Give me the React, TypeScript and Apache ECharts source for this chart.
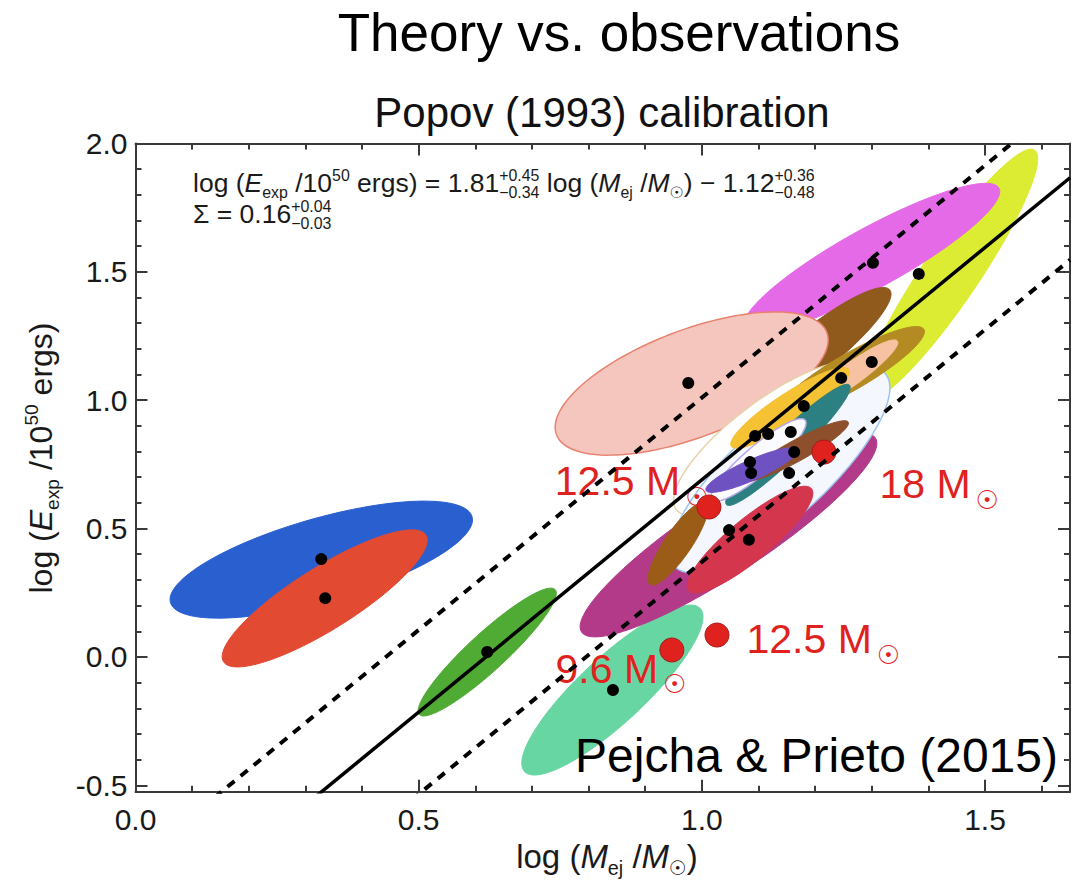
import React, { useEffect, useRef } from "react";
import * as echarts from "echarts";

// Axis extents: log (M_ej / Msun) and log (E_exp / 1e50 erg)
const X_MIN = 0;
const X_MAX = 1.65;
const Y_MIN = -0.525;
const Y_MAX = 2.0;

const xMajorTicks = [0, 0.5, 1.0, 1.5];
const xMinorTicks = [0.1, 0.2, 0.3, 0.4, 0.6, 0.7, 0.8, 0.9, 1.1, 1.2, 1.3, 1.4, 1.6];
const yMajorTicks = [-0.5, 0, 0.5, 1.0, 1.5, 2.0];
const yMinorTicks = [-0.4, -0.3, -0.2, -0.1, 0.1, 0.2, 0.3, 0.4, 0.6, 0.7, 0.8, 0.9, 1.1, 1.2, 1.3, 1.4, 1.6, 1.7, 1.8, 1.9];

// Popov (1993) calibrated relation: log E = slope * log M + intercept, scatter sigma
const fitSlope = 1.81;
const fitIntercept = -1.12;
const fitSigma = 0.16;

// Posterior ellipses of the individual supernovae (centre, half-extent in x and y, correlation)
const ellipseCx = [0.328, 0.334, 0.621, 0.842, 1.438, 1.3, 1.2, 0.982, 1.047, 1.12, 1.138, 1.085, 0.958, 1.262, 1.262, 1.156, 1.152, 1.1, 1.166, 1.088];
const ellipseCy = [0.379, 0.228, 0.019, -0.129, 1.488, 1.554, 1.196, 1.065, 0.475, 0.85, 0.728, 0.457, 0.442, 1.11, 1.098, 0.97, 0.826, 0.767, 0.802, 0.728];
const ellipseSx = [0.267, 0.181, 0.122, 0.16, 0.155, 0.226, 0.134, 0.241, 0.262, 0.17, 0.194, 0.111, 0.053, 0.131, 0.084, 0.105, 0.11, 0.084, 0.093, 0.081];
const ellipseSy = [0.228, 0.267, 0.249, 0.331, 0.49, 0.291, 0.243, 0.279, 0.397, 0.3, 0.4, 0.208, 0.162, 0.177, 0.137, 0.157, 0.236, 0.161, 0.118, 0.087];
const ellipseRho = [0.68, 0.85, 0.92, 0.86, 0.924, 0.89, 0.896, 0.61, 0.9, 0.8, 0.8, 0.87, 0.85, 0.889, 0.924, 0.896, 0.949, 0.897, 0.92, 0.87];

// Best-fit points of the supernovae
const snLogM = [0.328, 0.335, 0.621, 0.843, 1.094, 1.117, 1.157, 1.163, 1.085, 1.087, 1.154, 1.18, 1.246, 1.3, 0.976, 1.302, 1.383, 1.048, 1.083];
const snLogE = [0.381, 0.229, 0.019, -0.129, 0.861, 0.868, 0.876, 0.798, 0.759, 0.716, 0.716, 0.977, 1.087, 1.149, 1.067, 1.535, 1.492, 0.494, 0.456];

// Neutrino-driven explosion models (progenitor mass in Msun)
const modelMass = ["12.5", "18", "12.5", "9.6"];
const modelLogM = [1.0125, 1.2156, 1.0267, 0.947];
const modelLogE = [0.584, 0.798, 0.0853, 0.027];

// Ellipse palette
const ellipseFill = [
  "#2a5fcf", "#e24a32", "#4fab34", "#68d6a2", "#dcec32", "#e46ae8", "#8f5a1c", "#f4c6be",
  "#b23a88", "#ffffff", "#f5f7ff", "#d4364e", "#9a5c16", "#b38b22", "#f6c2a2", "#f4c232",
  "#2c8082", "#fbfaff", "#8e502c", "#6e52c2",
];
const ellipseEdge = [
  null, null, null, null, null, null, null, "#e8826e",
  null, "#e6d2a8", "#9cc4f0", null, null, null, null, null,
  null, "#b8a8e8", null, null,
];

const SANS = "Liberation Sans";
const SUN_FONT = "DejaVu Sans";
const RED = "#e0221f";

type Seg = { t?: string; it?: boolean; r?: "sub" | "sup"; f?: string; up?: string; dn?: string };

function buildMath(ctx: CanvasRenderingContext2D, segs: Seg[], size: number, color: string) {
  const small = size * 0.6;
  const children: any[] = [];
  let x = 0;
  const measure = (t: string, fs: number, it?: boolean, fam?: string) => {
    ctx.font = `${it ? "italic " : ""}${fs}px "${fam || SANS}"`;
    return ctx.measureText(t).width;
  };
  const put = (t: string, px: number, base: number, fs: number, it?: boolean, fam?: string) => {
    children.push({
      type: "text",
      x: px,
      y: base - 0.3465 * fs,
      style: {
        text: t,
        fontSize: fs,
        fontFamily: fam || SANS,
        fontStyle: it ? "italic" : "normal",
        fill: color,
        align: "left",
        verticalAlign: "middle",
      },
    });
  };
  for (const s of segs) {
    if (s.up !== undefined && s.dn !== undefined) {
      put(s.up, x, -size * 0.42, small);
      put(s.dn, x, size * 0.22, small);
      x += Math.max(measure(s.up, small), measure(s.dn, small));
    } else if (s.t !== undefined) {
      const fs = s.r ? small : size;
      const base = s.r === "sub" ? size * 0.22 : s.r === "sup" ? -size * 0.42 : 0;
      put(s.t, x, base, fs, s.it, s.f);
      x += measure(s.t, fs, s.it, s.f);
    }
  }
  return { children, width: x };
}

export default function App() {
  const ref = useRef<HTMLDivElement>(null);

  useEffect(() => {
    if (!ref.current) return;
    const chart = echarts.init(ref.current, null, { renderer: "svg" });
    const ctx = document.createElement("canvas").getContext("2d") as CanvasRenderingContext2D;

    const axisColor = "#3a3a3a";
    const tickLabel = { fontSize: 30, fontFamily: SANS, color: "#1a1a1a" };

    const xAxis = (position: "bottom" | "top", ticks: number[], len: number, major: boolean, labels: boolean) => ({
      type: "value" as const,
      min: X_MIN,
      max: X_MAX,
      splitLine: { show: false },
      position,
      axisLine: { show: major, onZero: false, lineStyle: { color: axisColor, width: 2 } },
      axisTick: { show: true, inside: true, length: len, customValues: ticks, lineStyle: { color: axisColor, width: 2 } },
      axisLabel: labels
        ? { show: true, customValues: ticks, margin: 13, formatter: (v: number) => v.toFixed(1), ...tickLabel }
        : { show: false },
    });
    const yAxis = (position: "left" | "right", ticks: number[], len: number, major: boolean, labels: boolean) => ({
      type: "value" as const,
      min: Y_MIN,
      max: Y_MAX,
      splitLine: { show: false },
      position,
      axisLine: { show: major, onZero: false, lineStyle: { color: axisColor, width: 2 } },
      axisTick: { show: true, inside: true, length: len, customValues: ticks, lineStyle: { color: axisColor, width: 2 } },
      axisLabel: labels
        ? { show: true, customValues: ticks, margin: 8, formatter: (v: number) => v.toFixed(1), ...tickLabel }
        : { show: false },
    });

    const ellipseData = ellipseCx.map((c, i) => [c, ellipseCy[i], ellipseSx[i], ellipseSy[i], ellipseRho[i], i]);

    const fitLine = (offset: number) =>
      [X_MIN, X_MAX].map((x) => [x, fitSlope * x + fitIntercept + offset]);

    // label placement of the model annotations, relative to each marker
    const labelPlacement: { align: "left" | "right"; offset: [number, number] }[] = [
      { align: "right", offset: [0, -46] },
      { align: "left", offset: [56, 12] },
      { align: "left", offset: [30, -16] },
      { align: "right", offset: [15, -1] },
    ];

    const eq1 = buildMath(
      ctx,
      [
        { t: "log (" },
        { t: "E", it: true },
        { t: "exp", r: "sub" },
        { t: " /10" },
        { t: "50", r: "sup" },
        { t: " ergs) = 1.81" },
        { up: "+0.45", dn: "\u22120.34" },
        { t: " log (" },
        { t: "M", it: true },
        { t: "ej", r: "sub" },
        { t: " /" },
        { t: "M", it: true },
        { t: "\u2609", r: "sub", f: SUN_FONT },
        { t: ") \u2212 1.12" },
        { up: "+0.36", dn: "\u22120.48" },
      ],
      26.5,
      "#1a1a1a"
    );
    const eq2 = buildMath(ctx, [{ t: "\u03a3 = 0.16" }, { up: "+0.04", dn: "\u22120.03" }], 26.5, "#1a1a1a");

    const yTitle = buildMath(
      ctx,
      [
        { t: "log (" },
        { t: "E", it: true },
        { t: "exp", r: "sub" },
        { t: " /10" },
        { t: "50", r: "sup" },
        { t: " ergs)" },
      ],
      32,
      "#1a1a1a"
    );
    const xTitle = buildMath(
      ctx,
      [
        { t: "log (" },
        { t: "M", it: true },
        { t: "ej", r: "sub" },
        { t: " /" },
        { t: "M", it: true },
        { t: "\u2609", r: "sub", f: SUN_FONT },
        { t: ")" },
      ],
      33,
      "#1a1a1a"
    );

    const option: any = {
      animation: false,
      backgroundColor: "#ffffff",
      grid: { left: 135.5, right: 12, top: 143.5, bottom: 93.3, containLabel: false },
      xAxis: [
        xAxis("bottom", xMajorTicks, 12, true, true),
        xAxis("bottom", xMinorTicks, 6, false, false),
        xAxis("top", xMajorTicks, 12, true, false),
        xAxis("top", xMinorTicks, 6, false, false),
      ],
      yAxis: [
        yAxis("left", yMajorTicks, 12, true, true),
        yAxis("left", yMinorTicks, 6, false, false),
        yAxis("right", yMajorTicks, 12, true, false),
        yAxis("right", yMinorTicks, 6, false, false),
      ],
      series: [
        {
          type: "custom",
          name: "posteriors",
          xAxisIndex: 0,
          yAxisIndex: 0,
          data: ellipseData,
          encode: { x: 0, y: 1 },
          renderItem: (_params: any, api: any) => {
            const cx = api.value(0);
            const cy = api.value(1);
            const sx = api.value(2);
            const sy = api.value(3);
            const r = api.value(4);
            const k = api.value(5);
            const q = Math.sqrt(1 - r * r);
            const pts: number[][] = [];
            const n = 120;
            for (let i = 0; i < n; i++) {
              const t = (i / n) * Math.PI * 2;
              const x = cx + sx * Math.cos(t);
              const y = cy + sy * (r * Math.cos(t) + q * Math.sin(t));
              pts.push(api.coord([x, y]));
            }
            const edge = ellipseEdge[k];
            return {
              type: "polygon",
              shape: { points: pts },
              style: {
                fill: ellipseFill[k],
                stroke: edge || ellipseFill[k],
                lineWidth: edge ? 1.5 : 1,
              },
            };
          },
        },
        {
          type: "line",
          name: "fit",
          data: fitLine(0),
          symbol: "none",
          clip: true,
          lineStyle: { color: "#000", width: 3.5 },
        },
        {
          type: "line",
          name: "fit +2 sigma",
          data: fitLine(2 * fitSigma),
          symbol: "none",
          clip: true,
          lineStyle: { color: "#000", width: 4, type: [9, 8] },
        },
        {
          type: "line",
          name: "fit -2 sigma",
          data: fitLine(-2 * fitSigma),
          symbol: "none",
          clip: true,
          lineStyle: { color: "#000", width: 4, type: [9, 8] },
        },
        {
          type: "scatter",
          name: "supernovae",
          data: snLogM.map((m, i) => [m, snLogE[i]]),
          symbol: "circle",
          symbolSize: 12,
          itemStyle: { color: "#000", opacity: 1 },
        },
        {
          type: "scatter",
          name: "models",
          data: modelLogM.map((m, i) => ({
            value: [m, modelLogE[i]],
            label: { align: labelPlacement[i].align, offset: labelPlacement[i].offset },
          })),
          symbol: "circle",
          symbolSize: 24,
          itemStyle: { color: RED, borderColor: "#a81818", borderWidth: 1, opacity: 1 },
          label: {
            show: true,
            opacity: 1,
            position: [12, 12],
            verticalAlign: "top",
            formatter: (p: any) => `{m|${modelMass[p.dataIndex]} M}{s|\u2609}`,
            rich: {
              m: { fontSize: 41, fontFamily: SANS, color: RED, lineHeight: 40, verticalAlign: "top" },
              s: { fontSize: 26, fontFamily: SUN_FONT, color: RED, lineHeight: 72, padding: [0, 0, 0, 5] },
            },
          },
        },
      ],
      graphic: [
        {
          type: "text",
          x: 619,
          y: 32,
          style: { text: "Theory vs. observations", fontSize: 53, fontFamily: SANS, fill: "#000", align: "center", verticalAlign: "middle" },
        },
        {
          type: "text",
          x: 602,
          y: 112,
          style: { text: "Popov (1993) calibration", fontSize: 42, fontFamily: SANS, fill: "#111", align: "center", verticalAlign: "middle" },
        },
        { type: "group", x: 193, y: 192, children: eq1.children },
        { type: "group", x: 193, y: 223, children: eq2.children },
        {
          type: "group",
          x: 52,
          y: 458 + yTitle.width / 2,
          rotation: Math.PI / 2,
          children: yTitle.children,
        },
        { type: "group", x: 607 - xTitle.width / 2, y: 868, children: xTitle.children },
        {
          type: "text",
          x: 1058,
          y: 755,
          z: 100,
          style: { text: "Pejcha & Prieto (2015)", fontSize: 48, fontFamily: SANS, fill: "#000", align: "right", verticalAlign: "middle" },
        },
      ],
    };

    chart.setOption(option);
    return () => chart.dispose();
  }, []);

  return (
    <div
      ref={ref}
      style={{ position: "absolute", left: 0, top: 0, width: 1082, height: 885, background: "#fff" }}
    />
  );
}
